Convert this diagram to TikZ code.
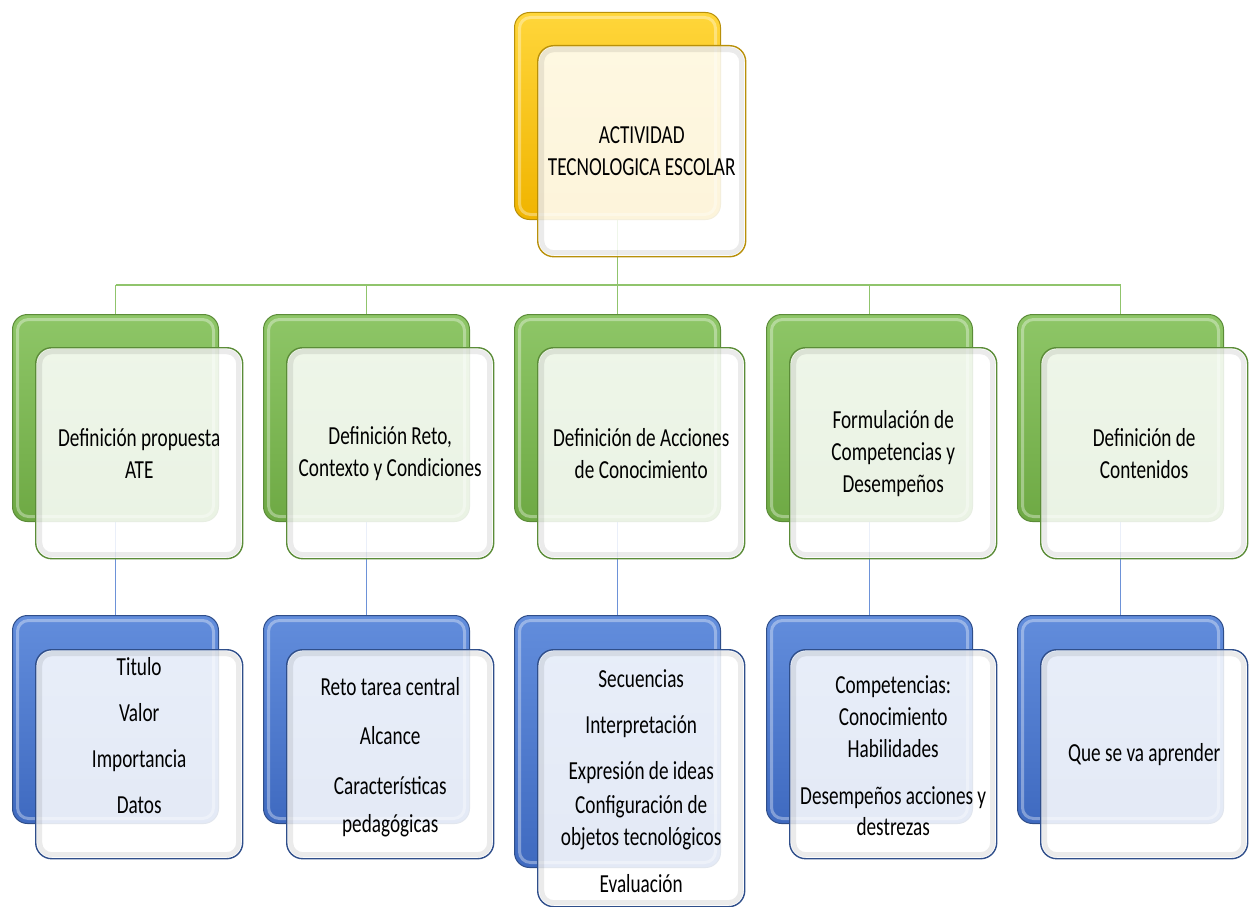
\documentclass[tikz,border=0pt]{standalone}
\usepackage{fontspec}
\setmainfont{Carlito}[FakeStretch=0.74]
\usetikzlibrary{calc,backgrounds}

\definecolor{ytop}{HTML}{FFD63A}
\definecolor{ybot}{HTML}{F0B400}
\definecolor{yedge}{HTML}{B8900A}
\definecolor{gtop}{HTML}{8EC667}
\definecolor{gbot}{HTML}{6EA944}
\definecolor{gedge}{HTML}{5B8C38}
\definecolor{gline}{HTML}{90C46C}
\definecolor{btop}{HTML}{628DDC}
\definecolor{bbot}{HTML}{3F6AC0}
\definecolor{bedge}{HTML}{2F4E8A}
\definecolor{bline}{HTML}{6D92D8}

\tikzset{
  backtile/.style={rectangle, rounded corners=15pt, anchor=north west,
    inner sep=0pt, minimum width=206pt, line width=1pt,
    path picture={\draw[white, opacity=.35, line width=3pt, rounded corners=11pt]
      ($(path picture bounding box.north west)+(5,5)$) rectangle
      ($(path picture bounding box.south east)+(-5,-5)$);}},
  fronttile/.style={rectangle, rounded corners=16pt, anchor=north west,
    inner sep=0pt, minimum width=207pt, line width=1.4pt,
    fill=white, fill opacity=0.86, text opacity=1, align=center,
    font=\fontsize{26}{32}\selectfont,
    path picture={\draw[black, opacity=.08, line width=5pt, rounded corners=12pt]
      ($(path picture bounding box.north west)+(4,4)$) rectangle
      ($(path picture bounding box.south east)+(-4,-4)$);}},
  yback/.style={backtile, top color=ytop, bottom color=ybot, draw=yedge},
  gback/.style={backtile, top color=gtop, bottom color=gbot, draw=gedge},
  bback/.style={backtile, top color=btop, bottom color=bbot, draw=bedge},
  yfront/.style={fronttile, draw=yedge},
  gfront/.style={fronttile, draw=gedge},
  bfront/.style={fronttile, draw=bedge},
  itemtext/.style={align=center, inner sep=0pt, font=\fontsize{26}{32}\selectfont},
  gconn/.style={draw=gline, line width=1.5pt},
  bconn/.style={draw=bline, line width=1.5pt},
}

\begin{document}
\begin{tikzpicture}[x=1pt, y=-1pt]
\useasboundingbox (0,0) rectangle (1250,907);

% root
\node[yback, minimum height=207pt] (tb) at (514,12) {};
\node[yfront, minimum height=211pt, minimum width=208pt] (tf) at (537,45)
  {ACTIVIDAD\\TECNOLOGICA ESCOLAR};

% second level
\node[gback, minimum height=207pt] (g1b) at (12,314) {};
\node[gfront, minimum height=211pt] (g1f) at (35,347) {Definición propuesta\\ATE};
\node[gback, minimum height=207pt] (g2b) at (263,314) {};
\node[gfront, minimum height=211pt] (g2f) at (286,347) {Definición Reto,\\Contexto y Condiciones};
\node[gback, minimum height=207pt] (g3b) at (514,314) {};
\node[gfront, minimum height=211pt] (g3f) at (537,347) {Definición de Acciones\\de Conocimiento};
\node[gback, minimum height=207pt] (g4b) at (766,314) {};
\node[gfront, minimum height=211pt] (g4f) at (789,347) {Formulación de\\Competencias y\\Desempeños};
\node[gback, minimum height=207pt] (g5b) at (1017,314) {};
\node[gfront, minimum height=211pt] (g5f) at (1040,347) {Definición de\\Contenidos};

% third level
\node[bback, minimum height=208pt] (b1b) at (12,615) {};
\node[bfront, minimum height=209pt] (b1f) at (35,649) {};
\node[bback, minimum height=208pt] (b2b) at (263,615) {};
\node[bfront, minimum height=209pt] (b2f) at (286,649) {};
\node[bback, minimum height=252pt] (b3b) at (514,615) {};
\node[bfront, minimum height=257pt] (b3f) at (537,649) {};
\node[bback, minimum height=208pt] (b4b) at (766,615) {};
\node[bfront, minimum height=209pt] (b4f) at (789,649) {};
\node[bback, minimum height=208pt] (b5b) at (1017,615) {};
\node[bfront, minimum height=209pt] (b5f) at (1040,649) {};

\node[itemtext] (b1t) at ($(b1f.north)+(0,86.5)$)
  {Titulo\\[14.5pt]Valor\\[14pt]Importancia\\[14pt]Datos};
\node[itemtext] (b2t) at ($(b2f.north)+(0,108.5)$)
  {Reto tarea central\\[17pt]Alcance\\[18pt]Características\\[6pt]pedagógicas};
\node[itemtext] (b3t) at ($(b3f.north)+(0,132.5)$)
  {Secuencias\\[14pt]Interpretación\\[14pt]Expresión de ideas\\[2pt]Configuración de\\objetos tecnológicos\\[15pt]Evaluación};
\node[itemtext] (b4t) at ($(b4f.north)+(0,107)$)
  {Competencias:\\Conocimiento\\Habilidades\\[15pt]Desempeños acciones y\\[-1pt]destrezas};
\node[itemtext] (b5t) at ($(b5f.north)+(0,106)$) {Que se va aprender};

% connectors behind the tiles
\begin{scope}[on background layer]
  \coordinate (bus) at (0,285);
  \draw[gconn] (tb.south) -- (tb.south |- bus);
  \draw[gconn] (g1b.north |- bus) -- (g5b.north |- bus);
  \foreach \i in {1,...,5} {
    \draw[gconn] (g\i b.north |- bus) -- (g\i b.north);
    \draw[bconn] (g\i b.south) -- (b\i b.north);
  }
\end{scope}
\end{tikzpicture}
\end{document}
